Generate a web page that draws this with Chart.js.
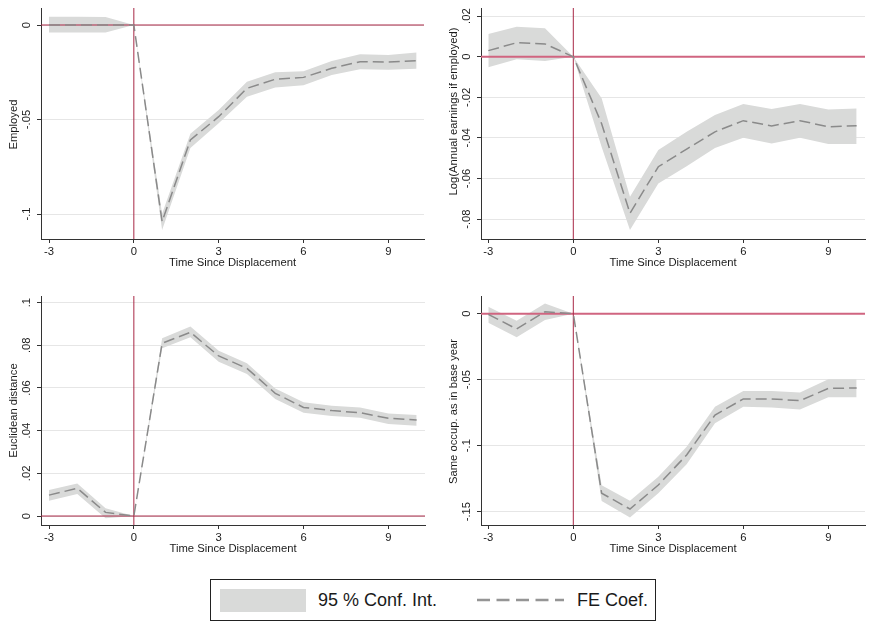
<!DOCTYPE html>
<html>
<head>
<meta charset="utf-8">
<script src="https://cdn.jsdelivr.net/npm/chart.js@4.4.1/dist/chart.umd.min.js"></script>
<style>
html,body{margin:0;padding:0;background:#fff;}
#wrap{position:relative;width:870px;height:623px;overflow:hidden;font-family:"Liberation Sans",Arial,Helvetica,sans-serif;color:#1a1a1a;}
canvas{position:absolute;}
#legend{position:absolute;left:210px;top:579px;width:446px;height:42px;box-sizing:border-box;border:1px solid #222;background:#fff;}
#legend .sw{position:absolute;left:9px;top:9px;width:86px;height:23px;background:#d9dad9;}
#legend .tx{position:absolute;top:10px;height:20px;line-height:20px;font-size:18px;white-space:nowrap;}
#legend svg{position:absolute;left:266px;top:17px;}
</style>
</head>
<body>
<div id="wrap">
  <canvas id="c1" width="435" height="280" style="left:0;top:0"></canvas>
  <canvas id="c2" width="435" height="280" style="left:435px;top:0"></canvas>
  <canvas id="c3" width="435" height="286" style="left:0;top:280px"></canvas>
  <canvas id="c4" width="435" height="286" style="left:435px;top:280px"></canvas>
  <div id="legend">
    <div class="sw"></div>
    <span class="tx" style="left:107px">95 % Conf. Int.</span>
    <svg width="90" height="6"><line x1="0" y1="3" x2="87" y2="3" stroke="#959595" stroke-width="2.6" stroke-dasharray="13 6.5"/></svg>
    <span class="tx" style="left:366px">FE Coef.</span>
  </div>
</div>
<script>
// ---------- data ----------
const periods = [-3, -2, -1, 0, 1, 2, 3, 4, 5, 6, 7, 8, 9, 10];
const xTicks = [-3, 0, 3, 6, 9];
const xTickLabels = ['-3', '0', '3', '6', '9'];
const xTitle = 'Time Since Displacement';

const employedCoef  = [0, 0, 0, 0, -0.104, -0.0608, -0.0485, -0.0335, -0.0287, -0.0277, -0.0229, -0.0194, -0.0196, -0.0189];
const employedUpper = [0.0044, 0.0044, 0.0042, 0, -0.0998, -0.0575, -0.0450, -0.0300, -0.0250, -0.0245, -0.0190, -0.0155, -0.0158, -0.0145];
const employedLower = [-0.0039, -0.0039, -0.0040, 0, -0.1085, -0.0650, -0.0520, -0.0380, -0.0330, -0.0318, -0.0265, -0.0234, -0.0237, -0.0231];
const employedTicks = [0, -0.05, -0.1];
const employedTickLabels = ['0', '-.05', '-.1'];
const employedTitle = 'Employed';

const earningsCoef  = [0.0030, 0.0069, 0.0063, 0, -0.0330, -0.0771, -0.0542, -0.0455, -0.0370, -0.0315, -0.0341, -0.0315, -0.0345, -0.0340];
const earningsUpper = [0.0112, 0.0148, 0.0140, 0, -0.0205, -0.0690, -0.0460, -0.0370, -0.0287, -0.0233, -0.0258, -0.0233, -0.0260, -0.0255];
const earningsLower = [-0.0052, -0.0013, -0.0021, 0, -0.0445, -0.0854, -0.0624, -0.0540, -0.0450, -0.0399, -0.0427, -0.0399, -0.0430, -0.0430];
const earningsTicks = [0.02, 0, -0.02, -0.04, -0.06, -0.08];
const earningsTickLabels = ['.02', '0', '-.02', '-.04', '-.06', '-.08'];
const earningsTitle = 'Log(Annual earnings if employed)';

const distanceCoef  = [0.0098, 0.0130, 0.0017, 0, 0.0810, 0.0861, 0.0750, 0.0692, 0.0575, 0.0509, 0.0494, 0.0484, 0.0458, 0.0450];
const distanceUpper = [0.0122, 0.0153, 0.0036, 0, 0.0833, 0.0888, 0.0775, 0.0716, 0.0598, 0.0533, 0.0517, 0.0508, 0.0481, 0.0473];
const distanceLower = [0.0072, 0.0103, -0.0010, 0, 0.0786, 0.0838, 0.0723, 0.0666, 0.0548, 0.0484, 0.0469, 0.0461, 0.0431, 0.0423];
const distanceTicks = [0, 0.02, 0.04, 0.06, 0.08, 0.1];
const distanceTickLabels = ['0', '.02', '.04', '.06', '.08', '.1'];
const distanceTitle = 'Euclidean distance';

const occupCoef  = [-0.0005, -0.0116, 0.0015, 0, -0.1360, -0.1480, -0.1298, -0.1070, -0.0768, -0.0646, -0.0646, -0.0659, -0.0566, -0.0563];
const occupUpper = [0.0053, -0.0053, 0.0078, 0, -0.1300, -0.1417, -0.1235, -0.1008, -0.0705, -0.0586, -0.0586, -0.0598, -0.0497, -0.0497];
const occupLower = [-0.0068, -0.0179, -0.0048, 0, -0.1420, -0.1545, -0.1360, -0.1140, -0.0831, -0.0705, -0.0710, -0.0725, -0.0634, -0.0634];
const occupTicks = [0, -0.05, -0.1, -0.15];
const occupTickLabels = ['0', '-.05', '-.1', '-.15'];
const occupTitle = 'Same occup. as in base year';

// ---------- drawing ----------
const FONT = '"Liberation Sans", Arial, Helvetica, sans-serif';
const TEXT = '#1a1a1a';
Chart.defaults.font.family = FONT;
Chart.defaults.color = TEXT;

function makePanel(canvasId, geo, ySpec, coef, upper, lower, ref) {
  const pts = arr => periods.map((x, i) => ({ x: x, y: arr[i] }));
  const deco = {
    id: 'deco_' + canvasId,
    beforeDatasetDraw(chart, args) {
      if (args.index !== 0) return;
      const { ctx, chartArea: a, scales: { x, y } } = chart;
      ctx.save();
      ctx.beginPath();
      ctx.rect(a.left, a.top, a.right - a.left, a.bottom - a.top);
      ctx.clip();
      const y0 = y.getPixelForValue(0), x0 = x.getPixelForValue(0);
      ctx.strokeStyle = ref.hColor; ctx.lineWidth = ref.hWidth;
      ctx.beginPath(); ctx.moveTo(a.left, y0); ctx.lineTo(a.right, y0); ctx.stroke();
      ctx.strokeStyle = ref.vColor; ctx.lineWidth = ref.vWidth;
      ctx.beginPath(); ctx.moveTo(x0, a.top); ctx.lineTo(x0, a.bottom); ctx.stroke();
      ctx.restore();
    },
    afterDraw(chart) {
      const { ctx, chartArea: a, scales: { y } } = chart;
      ctx.save();
      ctx.fillStyle = TEXT;
      ctx.font = '11.25px ' + FONT;
      ctx.textAlign = 'center';
      ctx.textBaseline = 'middle';
      ySpec.ticks.forEach((v, i) => {
        const py = y.getPixelForValue(v);
        ctx.save(); ctx.translate(a.left - 14.5, py); ctx.rotate(-Math.PI / 2);
        ctx.fillText(ySpec.labels[i], 0, 0); ctx.restore();
      });
      ctx.save(); ctx.translate(a.left - 27, (a.top + a.bottom) / 2 + ySpec.titleShift); ctx.rotate(-Math.PI / 2);
      ctx.fillText(ySpec.title, 0, 0); ctx.restore();
      ctx.restore();
    }
  };
  return new Chart(document.getElementById(canvasId), {
    type: 'line',
    data: {
      datasets: [
        { label: 'FE Coef.', data: pts(coef), borderColor: '#8a8a8a', borderWidth: 1.5, borderDash: [11, 5],
          pointRadius: 0, fill: false, tension: 0 },
        { label: 'upper', data: pts(upper), borderColor: 'rgba(0,0,0,0)', borderWidth: 0, pointRadius: 0,
          fill: '+1', backgroundColor: '#d9dad9', tension: 0 },
        { label: 'lower', data: pts(lower), borderColor: 'rgba(0,0,0,0)', borderWidth: 0, pointRadius: 0,
          fill: false, tension: 0 }
      ]
    },
    options: {
      responsive: false, animation: false, devicePixelRatio: 1,
      layout: { padding: { left: 0, top: geo.top, right: geo.w - geo.right, bottom: 0 } },
      plugins: { legend: { display: false }, tooltip: { enabled: false } },
      scales: {
        x: {
          type: 'linear', min: geo.xMin, max: geo.xMax,
          afterBuildTicks: s => { s.ticks = xTicks.map(v => ({ value: v })); },
          afterFit: s => { s.height = geo.h - geo.bottom; },
          ticks: { autoSkip: false, maxRotation: 0, minRotation: 0, padding: 2, font: { size: 11.25 }, color: TEXT,
                   callback: (v, i) => xTickLabels[i] },
          grid: { drawOnChartArea: false, drawTicks: true, tickLength: 4, tickColor: '#333', tickWidth: 1 },
          border: { display: true, color: '#333', width: 1 },
          title: { display: true, text: xTitle, font: { size: 11.25 }, color: TEXT, padding: { top: 0, bottom: 10.75 } }
        },
        y: {
          type: 'linear', min: ySpec.min, max: ySpec.max,
          afterBuildTicks: s => { s.ticks = ySpec.ticks.map(v => ({ value: v })); },
          afterFit: s => { s.width = geo.left; },
          ticks: { display: false },
          grid: { color: '#e6e6e6', lineWidth: 1, drawTicks: true, tickLength: 4, tickColor: '#333', tickWidth: 1 },
          border: { display: true, color: '#333', width: 1 }
        }
      }
    },
    plugins: [deco]
  });
}

const refThin = { hColor: '#a82745', hWidth: 1, vColor: '#a82745', vWidth: 1 };
const refPink = { hColor: '#d06580', hWidth: 2, vColor: '#a82745', vWidth: 1 };

makePanel('c1', { w: 435, h: 280, left: 41, right: 424, top: 8, bottom: 239, xMin: -3.283, xMax: 10.262 },
  { min: -0.1132, max: 0.009, ticks: employedTicks, labels: employedTickLabels, title: employedTitle, titleShift: 1 },
  employedCoef, employedUpper, employedLower, refThin);

makePanel('c2', { w: 435, h: 280, left: 46, right: 430, top: 8, bottom: 239, xMin: -3.258, xMax: 10.295 },
  { min: -0.0898, max: 0.024, ticks: earningsTicks, labels: earningsTickLabels, title: earningsTitle, titleShift: -12 },
  earningsCoef, earningsUpper, earningsLower, refPink);

makePanel('c3', { w: 435, h: 286, left: 41, right: 425, top: 16, bottom: 245, xMin: -3.283, xMax: 10.295 },
  { min: -0.0042, max: 0.1031, ticks: distanceTicks, labels: distanceTickLabels, title: distanceTitle, titleShift: 0 },
  distanceCoef, distanceUpper, distanceLower, refThin);

makePanel('c4', { w: 435, h: 286, left: 46, right: 430, top: 16, bottom: 245, xMin: -3.258, xMax: 10.295 },
  { min: -0.1601, max: 0.0134, ticks: occupTicks, labels: occupTickLabels, title: occupTitle, titleShift: 1 },
  occupCoef, occupUpper, occupLower, refPink);
</script>
</body>
</html>
